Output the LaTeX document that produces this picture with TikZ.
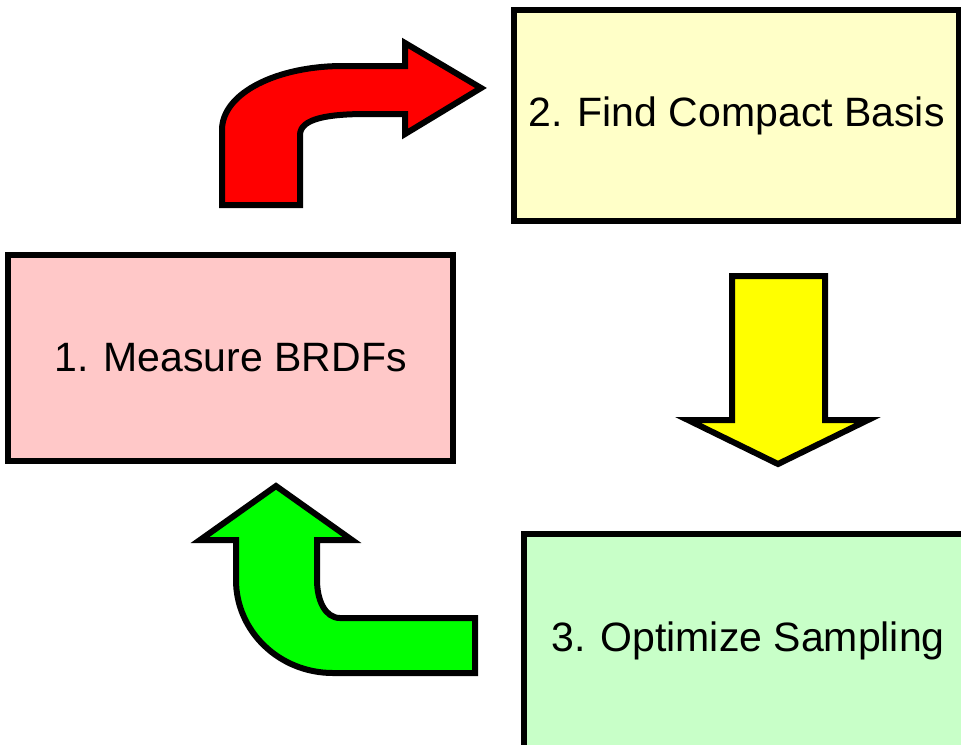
\documentclass[tikz,border=0pt]{standalone}
\usepackage{fontspec}
\setmainfont{Liberation Sans}
\usetikzlibrary{positioning,calc}
\definecolor{BoxPink}{RGB}{255,200,200}
\definecolor{BoxYellow}{RGB}{255,255,200}
\definecolor{BoxGreen}{RGB}{200,255,200}
\definecolor{ArrowRed}{RGB}{255,0,0}
\definecolor{ArrowYellow}{RGB}{255,255,0}
\definecolor{ArrowGreen}{RGB}{0,255,0}

\begin{document}
\begin{tikzpicture}[x=0.5pt, y=-0.5pt,
  every node/.style={font=\fontsize{20.5}{24}\selectfont},
  stepbox/.style={draw, line width=2.75pt, minimum width=222.5pt, inner sep=0pt},
  blockarrow/.style={draw, line width=3pt, line join=miter}]
\useasboundingbox (0,0) rectangle (961,744);
\fill[white] (0,0) rectangle (961,744);
\clip (0,0) rectangle (961,744);

\node[stepbox, fill=BoxPink, minimum height=103pt] (measure) at (230.5,358) {1. Measure BRDFs};
\node[stepbox, fill=BoxYellow, minimum height=105.5pt] (basis) at (736.5,115.5) {2. Find Compact Basis};
\node[stepbox, fill=BoxGreen, minimum width=224pt, minimum height=107pt] (sampling) at (748,641) {3. Optimize Sampling};

% curved arrow from 1 to 2
\draw[blockarrow, fill=ArrowRed] (222,205) -- (222,130)
  .. controls (222,93) and (277,66) .. (343,66) -- (405,66) -- (405,43)
  -- (481,88) -- (405,134) -- (405,114) -- (367,114)
  .. controls (330,114) and (300,118) .. (300,135) -- (300,205) -- cycle;

% straight arrow from 2 to 3
\draw[blockarrow, fill=ArrowYellow] (732,276) -- (825,276) -- (825,420)
  -- (868,420) -- (778,464) -- (688,420) -- (732,420) -- cycle;

% curved arrow from 3 back to 1
\draw[blockarrow, fill=ArrowGreen] (475,673) -- (333,673)
  .. controls (279,673) and (236,631) .. (236,580) -- (236,540) -- (200,540)
  -- (276,486) -- (352,540) -- (317,540) -- (317,580)
  .. controls (317,600) and (325,618) .. (340,618) -- (475,618) -- cycle;
\end{tikzpicture}
\end{document}
